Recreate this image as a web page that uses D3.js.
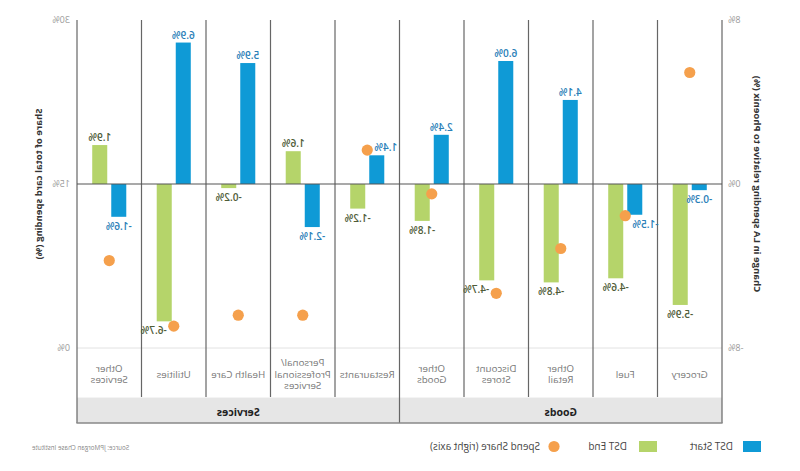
<!DOCTYPE html>
<html>
<head>
<meta charset="utf-8">
<script src="https://cdn.jsdelivr.net/npm/d3@7/dist/d3.min.js"></script>
<style>
  html, body { margin: 0; padding: 0; background: #fff; }
  svg { display: block; }
  text { font-family: "Open Sans", "DejaVu Sans", sans-serif; }
</style>
</head>
<body>
<svg id="chart" width="800" height="471"></svg>
<script>
// ---- data ----
const categories = ["Grocery", "Fuel", "Other Retail", "Discount Stores", "Other Goods",
  "Restaurants", "Personal/ Professional Services", "Health Care", "Utilities", "Other Services"];
const categoryLines = [["Grocery"], ["Fuel"], ["Other", "Retail"], ["Discount", "Stores"], ["Other", "Goods"],
  ["Restaurants"], ["Personal/", "Professional", "Services"], ["Health Care"], ["Utilities"], ["Other", "Services"]];
const groups = ["Goods", "Services"];
const groupOf = ["Goods", "Goods", "Goods", "Goods", "Goods", "Services", "Services", "Services", "Services", "Services"];
const dstStart = [-0.3, -1.5, 4.1, 6.0, 2.4, 1.4, -2.1, 5.9, 6.9, -1.6];
const dstEnd = [-5.9, -4.6, -4.8, -4.7, -1.8, -1.2, 1.6, -0.2, -6.7, 1.9];
const spendShare = [25.2, 12.1, 9.1, 5.0, 14.1, 18.1, 3.0, 3.0, 2.0, 8.0];
const changeTicks = [-8, 0, 8];
const shareTicks = [0, 15, 30];
const seriesNames = ["DST Start", "DST End"];
const legendLabels = ["DST Start", "DST End", "Spend Share (right axis)"];

const colors = { start: "#0f9ad6", end: "#b5d46a", share: "#f5a04c" };

const svg = d3.select("#chart");
// the reference is drawn mirrored horizontally
const root = svg.append("g").attr("transform", "translate(800,0) scale(-1,1)");

const L = 78, R = 723, T = 20, B = 348, rowBottom = 397, bandBottom = 423;
const dotR = 5.6;

const x = d3.scaleBand().domain(categories).range([L, R]).paddingInner(0).paddingOuter(0);
const xs = d3.scaleBand().domain(seriesNames).range([0, x.bandwidth()]).paddingInner(4 / 19).paddingOuter(0.8);
const yC = d3.scaleLinear().domain([-8, 8]).range([B, T]);
const yS = d3.scaleLinear().domain([0, 30]).range([B, T]);

// group band
root.append("rect").attr("x", L).attr("y", rowBottom).attr("width", R - L).attr("height", bandBottom - rowBottom)
  .attr("fill", "#e6e6e6");
root.append("line").attr("x1", L).attr("x2", R).attr("y1", rowBottom + 0.5).attr("y2", rowBottom + 0.5)
  .attr("stroke", "#f4f4f4");

// bottom light line
root.append("line").attr("x1", L).attr("x2", R).attr("y1", yC(-8)).attr("y2", yC(-8))
  .attr("stroke", "#e2e2e2").attr("stroke-width", 1);

// vertical separators
const bounds = categories.map(c => x(c)).concat([R]);
bounds.forEach((bx, i) => {
  const full = (i === 0 || i === bounds.length - 1 || i === 5);
  root.append("line").attr("x1", bx).attr("x2", bx).attr("y1", T).attr("y2", full ? bandBottom : rowBottom)
    .attr("stroke", "#666").attr("stroke-width", 1.2);
});
root.append("line").attr("x1", L - 0.6).attr("x2", R + 0.6).attr("y1", bandBottom).attr("y2", bandBottom)
  .attr("stroke", "#888").attr("stroke-width", 1.6);

// bars
const bars = root.append("g");
categories.forEach((c, i) => {
  [[dstStart[i], "DST Start", colors.start], [dstEnd[i], "DST End", colors.end]].forEach(([v, s, col]) => {
    const y0 = yC(0), y1 = yC(v);
    bars.append("rect").attr("x", x(c) + xs(s)).attr("width", xs.bandwidth())
      .attr("y", Math.min(y0, y1)).attr("height", Math.abs(y1 - y0)).attr("fill", col);
  });
});

// zero line
root.append("line").attr("x1", L).attr("x2", R).attr("y1", yC(0)).attr("y2", yC(0))
  .attr("stroke", "#555").attr("stroke-width", 1.2);

// value labels (nudged sideways away from a dot they would overlap)
const fmt = v => v.toFixed(1) + "%";
categories.forEach((c, i) => {
  const ccx = x(c) + x.bandwidth() / 2;
  const dcy = yS(spendShare[i]);
  [[dstStart[i], "DST Start", "#2a80b8"], [dstEnd[i], "DST End", "#4f5c38"]].forEach(([v, s, col]) => {
    let cx = x(c) + xs(s) + xs.bandwidth() / 2;
    const y = v >= 0 ? yC(v) - 4 : yC(v) + 13;
    const t = root.append("text").attr("x", cx).attr("y", y).attr("text-anchor", "middle")
      .attr("font-size", "10px").attr("font-weight", 600).attr("fill", col).text(fmt(v));
    const w = t.node().getComputedTextLength();
    const top = y - 8, bot = y + 1;
    if (dcy + dotR > top && dcy - dotR < bot) {
      const dir = cx >= ccx ? 1 : -1;
      const inner = cx - dir * w / 2;
      const need = dotR + 1.5;
      const dist = (inner - ccx) * dir;
      if (dist < need) { cx += dir * (need - dist); t.attr("x", cx); }
    }
  });
});

// dots
categories.forEach((c, i) => {
  root.append("circle").attr("cx", x(c) + x.bandwidth() / 2).attr("cy", yS(spendShare[i]))
    .attr("r", dotR).attr("fill", colors.share);
});

// axes
const axL = root.append("g").attr("transform", `translate(${L},0)`)
  .call(d3.axisLeft(yC).tickValues(changeTicks).tickSize(0).tickPadding(6).tickFormat(d => d + "%"));
const axR = root.append("g").attr("transform", `translate(${R},0)`)
  .call(d3.axisRight(yS).tickValues(shareTicks).tickSize(0).tickPadding(7).tickFormat(d => d + "%"));
[axL, axR].forEach(a => {
  a.select(".domain").remove();
  a.selectAll("text").attr("font-size", "9px").attr("fill", "#999")
    .attr("font-family", "'Open Sans', sans-serif");
});

// axis titles
root.append("text").attr("transform", `translate(43,${yC(0)}) rotate(-90)`).attr("text-anchor", "middle")
  .attr("dy", "0.35em").attr("font-size", "9.5px").attr("font-weight", 700).attr("fill", "#333")
  .text("Change in LA spending relative to Phoenix (%)");
root.append("text").attr("transform", `translate(761,${yC(0)}) rotate(90)`).attr("text-anchor", "middle")
  .attr("dy", "0.35em").attr("font-size", "9.5px").attr("font-weight", 700).attr("fill", "#333")
  .text("Share of total card spending (%)");

// category labels
categories.forEach((c, i) => {
  const lines = categoryLines[i];
  const lh = 11.8;
  const t = root.append("text").attr("text-anchor", "middle").attr("font-size", "9.8px").attr("fill", "#777");
  lines.forEach((ln, j) => {
    t.append("tspan").attr("x", x(c) + x.bandwidth() / 2)
      .attr("y", 374 + (j - (lines.length - 1) / 2) * lh + 3.5).text(ln);
  });
});

// group labels
groups.forEach(g => {
  const idx = categories.map((c, i) => i).filter(i => groupOf[i] === g);
  const x0 = x(categories[idx[0]]), x1 = x(categories[idx[idx.length - 1]]) + x.bandwidth();
  root.append("text").attr("x", (x0 + x1) / 2).attr("y", 415.5).attr("text-anchor", "middle")
    .attr("font-size", "10.5px").attr("font-weight", 700).attr("fill", "#222").text(g);
});

// legend
const lg = root.append("g");
lg.append("rect").attr("x", 39).attr("y", 441).attr("width", 18).attr("height", 11).attr("fill", colors.start);
lg.append("text").attr("x", 67).attr("y", 450).attr("font-size", "10px").attr("fill", "#444").text(legendLabels[0]);
lg.append("rect").attr("x", 143).attr("y", 441).attr("width", 18).attr("height", 11).attr("fill", colors.end);
lg.append("text").attr("x", 173).attr("y", 450).attr("font-size", "10px").attr("fill", "#444").text(legendLabels[1]);
lg.append("circle").attr("cx", 246).attr("cy", 446.5).attr("r", dotR).attr("fill", colors.share);
lg.append("text").attr("x", 260).attr("y", 450).attr("font-size", "10px").attr("fill", "#444").text(legendLabels[2]);

// source
root.append("text").attr("x", 768).attr("y", 450).attr("text-anchor", "end").attr("font-size", "6.3px").attr("fill", "#888")
  .text("Source: JPMorgan Chase Institute");
</script>
</body>
</html>
